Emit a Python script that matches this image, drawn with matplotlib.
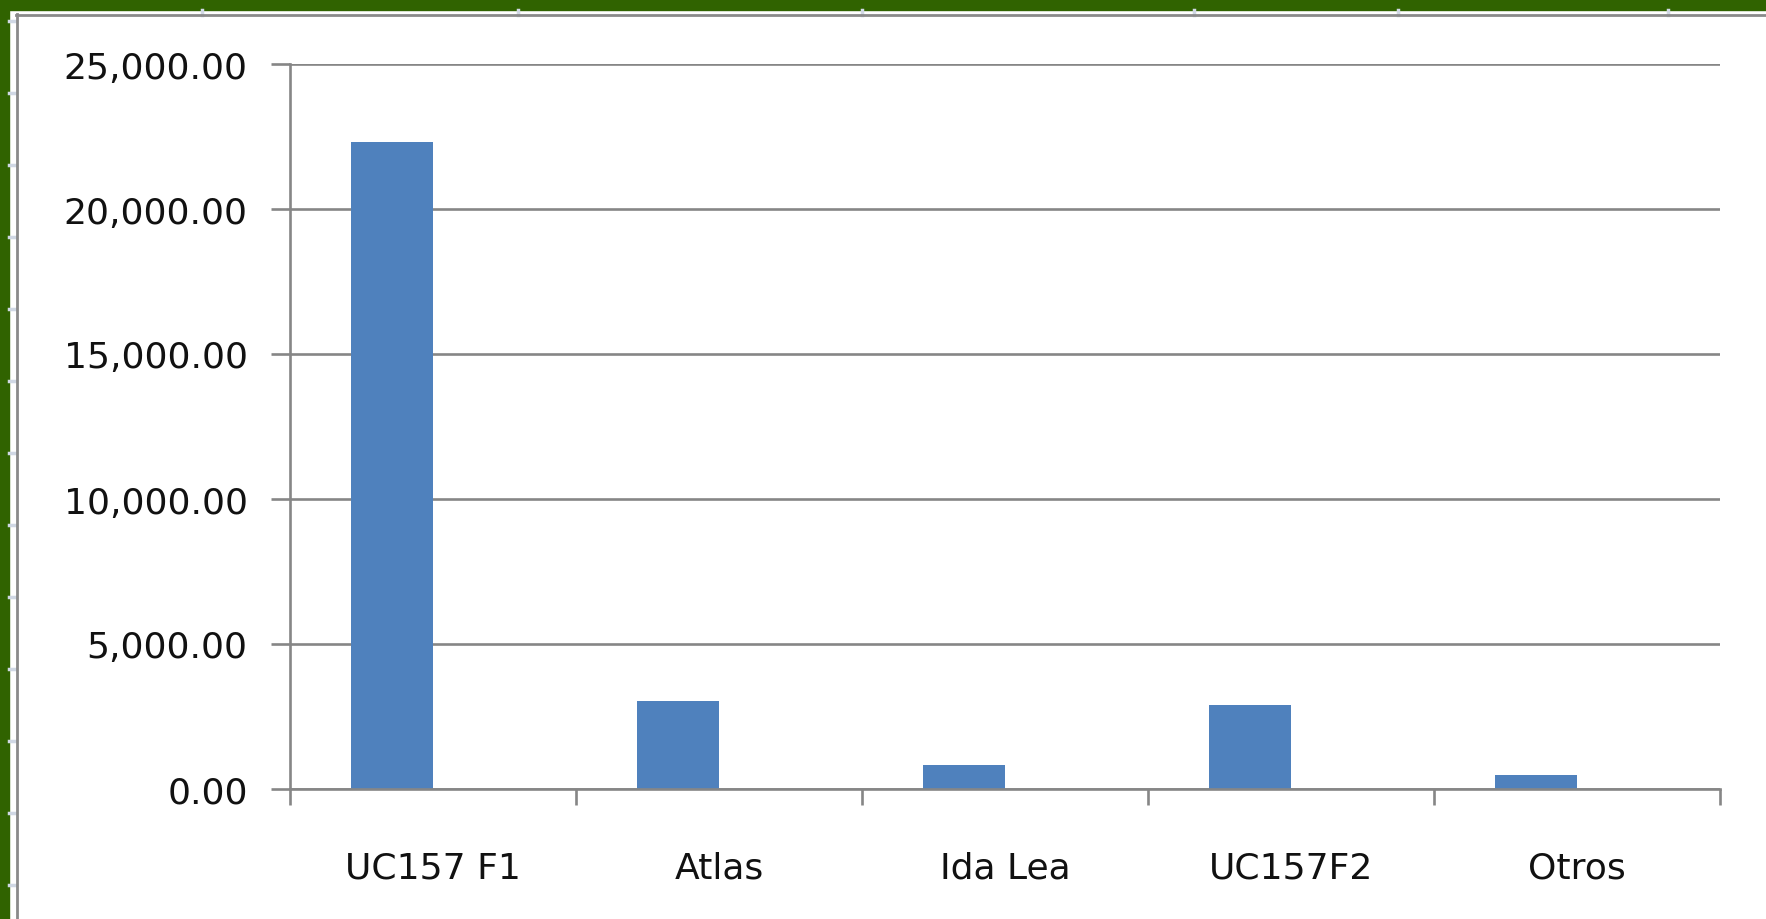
import matplotlib
import matplotlib.pyplot as plt
from matplotlib.lines import Line2D
from matplotlib.patches import Rectangle
from matplotlib.ticker import FuncFormatter, FixedLocator

matplotlib.use("Agg")

# datos
categories = ["UC157 F1", "Atlas", "Ida Lea", "UC157F2", "Otros"]
values = [22300, 3030, 820, 2910, 470]
y_ticks = [0, 5000, 10000, 15000, 20000, 25000]

W, H = 1766, 920
BAR_COLOR = "#4F81BD"
GRID_COLOR = "#868686"
FRAME_GREEN = "#306300"

plt.rcParams["font.family"] = ["DejaVu Sans"]

fig = plt.figure(figsize=(W / 100, H / 100), dpi=100)


def px_x(x):
    return x / W


def px_y(y):
    return 1 - y / H


# borde verde + marco gris del gráfico de Excel
fig.patches.append(Rectangle((0, px_y(11)), 1, 11 / H, transform=fig.transFigure,
                             color=FRAME_GREEN, zorder=0))
fig.patches.append(Rectangle((0, 0), 9 / W, 1, transform=fig.transFigure,
                             color=FRAME_GREEN, zorder=0))
for yy in range(22, H, 72):
    fig.lines.append(Line2D([px_x(9), px_x(16)], [px_y(yy), px_y(yy)],
                            transform=fig.transFigure, color="#D0D8E4", lw=2.5))
for xx in [202, 518, 862, 1194, 1398, 1668]:
    fig.lines.append(Line2D([px_x(xx), px_x(xx)], [px_y(11), px_y(16)],
                            transform=fig.transFigure, color="#D0D8E4", lw=2.5))
fig.lines.append(Line2D([px_x(16), 1], [px_y(16), px_y(16)],
                        transform=fig.transFigure, color="#8A8A8A", lw=2))
fig.lines.append(Line2D([px_x(17), px_x(17)], [px_y(15), 0],
                        transform=fig.transFigure, color="#8A8A8A", lw=2))

left, right, top, bottom = 290, 1720, 65, 790
ax = fig.add_axes([px_x(left), px_y(bottom), (right - left) / W, (bottom - top) / H])

n = len(categories)
w = 1 / 3.5  # dos series en Excel, la segunda vacía
xs = [i - w / 2 for i in range(n)]
ax.bar(xs, values, width=w, color=BAR_COLOR, zorder=3)

ax.set_xlim(-0.5, n - 0.5)
ax.set_ylim(0, 25000)
ax.yaxis.set_major_locator(FixedLocator(y_ticks))
ax.yaxis.set_major_formatter(FuncFormatter(lambda v, p: f"{v:,.2f}"))
ax.grid(True, axis="y", color=GRID_COLOR, lw=1.9, zorder=1)
ax.set_axisbelow(True)

ax.set_xticks(range(n))
ax.set_xticklabels(categories)
ax.set_xticks([i - 0.5 for i in range(n + 1)], minor=True)
ax.tick_params(axis="x", which="major", length=0, pad=44, labelsize=26,
               labelcolor="#111111")
ax.tick_params(axis="x", which="minor", length=11.5, width=1.9,
               color=GRID_COLOR, direction="out")
ax.tick_params(axis="y", length=13.5, width=1.9, color=GRID_COLOR,
               pad=17, labelsize=26, labelcolor="#111111")

for s in ["top", "right"]:
    ax.spines[s].set_visible(False)
for s in ["left", "bottom"]:
    ax.spines[s].set_color(GRID_COLOR)
    ax.spines[s].set_linewidth(1.9)
    ax.spines[s].set_zorder(4)

fig.savefig("out.png", dpi=100)
plt.close(fig)
